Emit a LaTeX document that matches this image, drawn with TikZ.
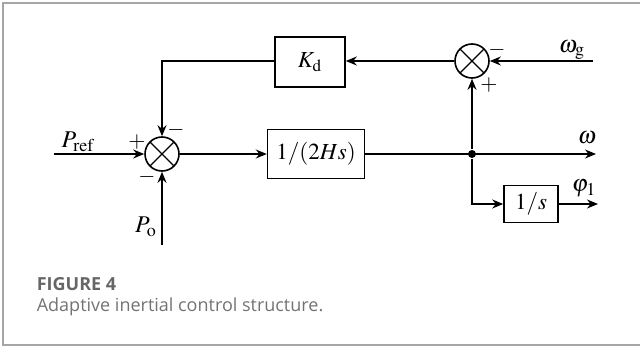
\documentclass[tikz,border=0pt]{standalone}
\usepackage{mathptmx}
\usepackage[no-math]{fontspec}
\setmainfont{Liberation Serif}
\newfontfamily\capfont{Open Sans}
\usetikzlibrary{arrows.meta, positioning}

\begin{document}
\begin{tikzpicture}[
  x=0.5pt, y=-0.5pt, >={Stealth[length=5.5pt, width=4.5pt]},
  line width=0.8pt,
  blockbox/.style={
    draw, rectangle, line width=0.8pt, inner sep=0pt, align=center,
    font=\fontsize{11.5}{13}\selectfont
  },
  sumnode/.style={
    draw, circle, line width=0.8pt, minimum size=17pt, inner sep=0pt,
    path picture={
      \draw[line width=0.6pt] (path picture bounding box.north west) -- (path picture bounding box.south east);
      \draw[line width=0.6pt] (path picture bounding box.south west) -- (path picture bounding box.north east);
    }
  },
  junction/.style={circle, fill, minimum size=4pt, inner sep=0pt},
  sign/.style={font=\fontsize{11}{13}\selectfont, inner sep=0pt},
  sig/.style={font=\fontsize{12}{14}\selectfont, inner sep=0pt},
  myarrow/.style={->, line width=0.8pt},
  framegray/.style={draw=black!35, line width=0.8pt},
  captitle/.style={font=\capfont\fontsize{9}{11}\selectfont\bfseries, text=black!60, anchor=west, inner sep=0pt},
  captext/.style={font=\capfont\fontsize{9}{11}\selectfont, text=black!55, anchor=west, inner sep=0pt},
]
\useasboundingbox (0,0) rectangle (640,347);
% --- frame ---
\draw[framegray] (645,3) -| (3,345) -- (645,345);
% --- forward path ---
\node[sumnode] (sum1) at (162,154) {};
\node[blockbox, minimum width=48.5pt, minimum height=24.5pt, right=43.5pt of sum1] (hs) {$1/(2Hs)$};
\node[junction] (junc) at (472,154) {};
\coordinate (pref) at (54,154);
\coordinate (po) at (162,245);
\coordinate (wout) at (596,154);
\draw[myarrow] (pref) -- (sum1.west);
\draw[myarrow] (po) -- (sum1.south);
\draw[myarrow] (sum1.east) -- (hs.west);
\draw[myarrow] (hs.east) -- (wout);
% --- feedback path ---
\node[sumnode] (sum2) at (472,61) {};
\node[blockbox, minimum width=35pt, minimum height=25pt] (kd) at (310,62) {$K_{\mathrm{d}}$};
\coordinate (wg) at (593,61);
\draw[myarrow] (wg) -- (sum2.east);
\draw[myarrow] (junc) -- (sum2.south);
\draw[myarrow] (sum2.west) -- (kd.east |- sum2.west);
\draw[myarrow] (kd.west |- sum2.west) -| (sum1.north);
% --- integrator ---
\node[blockbox, minimum width=27pt, minimum height=18.5pt] (integ) at (531,204) {$1/s$};
\coordinate (phiout) at (598,204);
\draw[myarrow] (junc) |- (integ.west);
\draw[myarrow] (integ.east) -- (phiout);
% --- labels ---
\node[sig] at (78,142) {$P_{\mathrm{ref}}$};
\node[sig] at (146,227) {$P_{\mathrm{o}}$};
\node[sig] at (572,50) {$\omega_{\mathrm{g}}$};
\node[sig] at (587,138) {$\omega$};
\node[sig] at (584,188) {$\varphi_1$};
\node[sign] at (137,142) {$+$};
\node[sign] at (176,130) {$-$};
\node[sign] at (147,177) {$-$};
\node[sign] at (497,50) {$-$};
\node[sign] at (489,85) {$+$};
% --- caption ---
\node[captitle] (figno) at (36,284) {FIGURE 4};
\node[captext, below=3pt of figno.south west, anchor=north west] (figcap) {Adaptive inertial control structure.};
\end{tikzpicture}
\end{document}
